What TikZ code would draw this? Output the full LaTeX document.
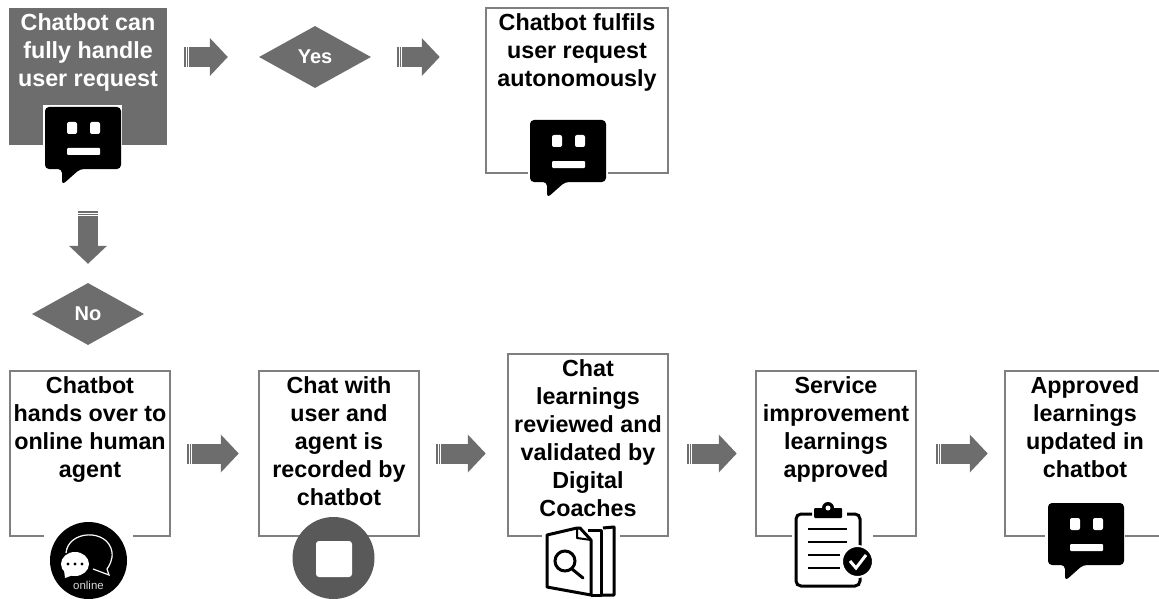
\documentclass[tikz,border=0pt]{standalone}
\usepackage{fontspec}
\setmainfont{Liberation Sans}
\usetikzlibrary{arrows.meta,shapes.geometric}
\definecolor{boxgray}{HTML}{6D6D6D}
\definecolor{linegray}{HTML}{7F7F7F}
\definecolor{stopgray}{HTML}{595959}
\tikzset{
  bot/.pic={
    \fill[black,rounded corners=4pt] (0,0) -- (76,0) -- (76,62) -- (35,62) -- (17,78) -- (17,62) -- (0,62) -- cycle;
    \fill[white,rounded corners=2pt] (22,15) rectangle (32,27);
    \fill[white,rounded corners=2pt] (45,15) rectangle (55,27);
    \fill[white,rounded corners=1pt] (22,41) rectangle (55,48);
  }
}
\begin{document}
\begin{tikzpicture}[x=1pt,y=-1pt,
    box/.style={shape=rectangle,draw=linegray,line width=2.5pt,fill=white,inner sep=0pt,minimum width=160pt,minimum height=165pt},
    graybox/.style={box,fill=boxgray,draw=none,minimum width=158pt,minimum height=137pt},
    txt/.style={anchor=north,align=center,inner sep=0pt,yshift=-7pt,font=\fontsize{23.3}{28}\selectfont\bfseries},
    choice/.style={shape=diamond,fill=boxgray,text=white,inner sep=0pt,minimum width=112pt,minimum height=62pt,font=\fontsize{20}{20}\selectfont\bfseries},
    blockarrow/.style={draw=boxgray,line width=20pt,dash pattern=on 1.5pt off 1pt on 1.5pt off 1pt on 200pt,-{Triangle[length=18pt,width=37pt,fill=boxgray]}},
    gap/.style={fill=white,draw=none}]
  \useasboundingbox (0,0) rectangle (1159,599);

  \node[graybox] (canhandle) at (88,76.5) {};
  \node[box,minimum width=182pt] (fulfils) at (577,90.5) {};
  \node[box] (handover) at (90,453.5) {};
  \node[box] (recorded) at (339,453.5) {};
  \node[box,minimum height=182pt] (reviewed) at (588,445) {};
  \node[box] (approved) at (836,453.5) {};
  \node[box] (updated) at (1085,453.5) {};

  \node[txt,text=white] (canhandletext) at (canhandle.north) {Chatbot can\\fully handle\\user request};
  \node[txt] (fulfilstext) at (fulfils.north) {Chatbot fulfils\\user request\\autonomously};
  \node[txt] (handovertext) at (handover.north) {Chatbot\\hands over to\\online human\\agent};
  \node[txt] (recordedtext) at (recorded.north) {Chat with\\user and\\agent is\\recorded by\\chatbot};
  \node[txt] (reviewedtext) at (reviewed.north) {Chat\\learnings\\reviewed and\\validated by\\Digital\\Coaches};
  \node[txt] (approvedtext) at (approved.north) {Service\\improvement\\learnings\\approved};
  \node[txt] (updatedtext) at (updated.north) {Approved\\learnings\\updated in\\chatbot};

  \node[choice] (yes) at (315,57) {Yes};
  \node[choice] (no) at (88,314) {No};

  \draw[blockarrow,shorten <=16pt,shorten >=31pt] (yes.west -| canhandle.east) -- (yes.west);
  \draw[blockarrow,shorten <=26pt,shorten >=45pt] (yes.east) -- (yes.east -| fulfils.west);
  \draw[blockarrow,shorten <=65pt,shorten >=19pt] (canhandle.south) -- (no.north);
  \draw[blockarrow,shorten <=16pt,shorten >=19pt] (handover.east) -- (recorded.west);
  \draw[blockarrow,shorten <=16pt,shorten >=21pt] (recorded.east) -- (recorded.east -| reviewed.west);
  \draw[blockarrow,shorten <=18pt,shorten >=18pt] (recorded.east -| reviewed.east) -- (approved.west);
  \draw[blockarrow,shorten <=19pt,shorten >=16pt] (approved.east) -- (updated.west);

  % icons
  \fill[white] (43,105) rectangle (122,145);
  \pic at (45,107) {bot};
  \fill[gap] (528,168) rectangle (608,175);
  \pic at (530,120) {bot};
  \fill[gap] (1045,530) rectangle (1125,538);
  \pic at (1048,503) {bot};

  \fill[gap] (44,530) rectangle (133,538);
  \fill[black] (88.5,560.5) circle (38.5);
  \draw[white,line width=1.2pt] (66,553) .. controls (68,530) and (108,528) .. (112,552) .. controls (113,560) and (109,566) .. (107,569) -- (109,575) -- (93,569);
  \fill[white] (75,564) ellipse (14 and 12);
  \fill[white] (64,570) -- (65,578) -- (76,574) -- cycle;
  \fill[black] (68,564) circle (1.7) (75,564) circle (1.7) (82,564) circle (1.7);
  \node[text=white!85!black,inner sep=0pt,font=\fontsize{11.5}{11.5}\selectfont] (onlinetext) at (88.5,585) {online};

  \fill[stopgray] (333.5,558) circle (41);
  \fill[white,rounded corners=3pt] (316,541) rectangle (352,577);

  \fill[gap] (542,530) rectangle (620,538);
  \draw[black,line width=3pt,line join=round] (577,528) -- (547,535) -- (547,587) -- (591,595) -- (591,540) -- (580,528) -- cycle;
  \draw[black,line width=2pt,line join=round] (577,528) -- (577,538) -- (591,540);
  \draw[black,line width=3pt,line join=round] (588,530) -- (601,530) -- (601,595) -- (591,595);
  \draw[black,line width=3pt,line join=round] (603,528) -- (614,527) -- (614,595) -- (601,595);
  \draw[black,line width=3pt] (565,561) circle (10);
  \draw[black,line width=3pt,line cap=round] (572,569) -- (583,578);

  \fill[gap] (792,530) rectangle (873,538);
  \draw[black,line width=3pt,rounded corners=5pt] (812,514) -- (796,514) -- (796,586) -- (860,586) -- (860,514) -- (847,514);
  \fill[black,rounded corners=1pt] (814,518) rectangle (842,508);
  \fill[black] (828,508) circle (6);
  \fill[white] (828,508) circle (2.5);
  \foreach \liney/\lineend in {529/847,542/847,555/840,568/840}
    \draw[black,line width=1.8pt] (808,\liney) -- (\lineend,\liney);
  \fill[black,draw=white,line width=2pt] (857.5,561.5) circle (15.5);
  \draw[white,line width=3pt] (850,561) -- (856,568) -- (866,555);
\end{tikzpicture}
\end{document}
